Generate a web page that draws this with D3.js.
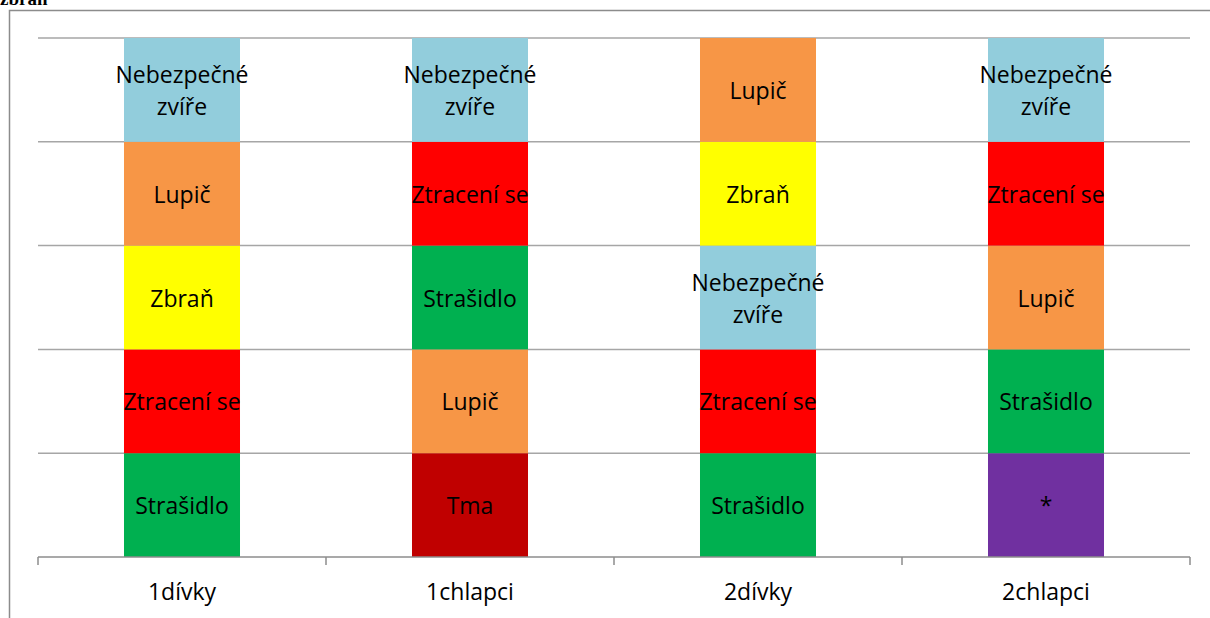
<!DOCTYPE html>
<html>
<head>
<meta charset="utf-8">
<script src="https://cdn.jsdelivr.net/npm/d3@7"></script>
<style>
  body { margin: 0; background: #fff; }
  text { font-family: "Open Sans", "Noto Sans", sans-serif; }
</style>
</head>
<body>
<div id="chart"></div>
<script>
const width = 1210;
const height = 618;

// groups on the x axis
const categories = ['1dívky', '1chlapci', '2dívky', '2chlapci'];
// stacked levels, bottom to top (each segment is one unit high)
const level1 = ['Strašidlo', 'Tma', 'Strašidlo', '*'];
const level2 = ['Ztracení se', 'Lupič', 'Ztracení se', 'Strašidlo'];
const level3 = ['Zbraň', 'Strašidlo', 'Nebezpečné zvíře', 'Lupič'];
const level4 = ['Lupič', 'Ztracení se', 'Zbraň', 'Ztracení se'];
const level5 = ['Nebezpečné zvíře', 'Nebezpečné zvíře', 'Lupič', 'Nebezpečné zvíře'];
const levels = [level1, level2, level3, level4, level5];
const yTicks = [0, 1, 2, 3, 4, 5];

const labelNames = ['Nebezpečné zvíře', 'Lupič', 'Zbraň', 'Ztracení se', 'Strašidlo', 'Tma', '*'];
const labelColors = ['#92CDDC', '#F79646', '#FFFF00', '#FF0000', '#00B050', '#C00000', '#7030A0'];

const color = d3.scaleOrdinal().domain(labelNames).range(labelColors);

const svg = d3.select('#chart').append('svg')
    .attr('width', width)
    .attr('height', height);

// chart frame (runs off the right/bottom edge)
svg.append('rect')
    .attr('x', 9.5).attr('y', 10.5)
    .attr('width', 1240).attr('height', 640)
    .attr('fill', 'none')
    .attr('stroke', '#8c8c8c')
    .attr('stroke-width', 1.5);

// title, clipped by the top edge as in the original
svg.append('text')
    .attr('x', 0).attr('y', 5)
    .style('font-family', '"Liberation Serif", serif')
    .style('font-weight', 'bold')
    .style('font-size', '19px')
    .text('zbraň');

const x = d3.scaleBand().domain(categories).range([38, 1190]).paddingInner(0.5972).paddingOuter(0.2986);
const xAxisScale = d3.scalePoint().domain(d3.range(categories.length + 1)).range([38, 1190]);
const y = d3.scaleLinear().domain([0, 5]).range([557, 38]);

// gridlines
svg.append('g').selectAll('line')
    .data(yTicks.slice(1))
    .join('line')
    .attr('x1', 38).attr('x2', 1190)
    .attr('y1', d => y(d)).attr('y2', d => y(d))
    .attr('stroke', '#a6a6a6')
    .attr('stroke-width', 1.5);

const segments = [];
levels.forEach((lvl, i) => {
    lvl.forEach((name, j) => segments.push({ cat: categories[j], name, y0: i, y1: i + 1 }));
});

const seg = svg.append('g').selectAll('g')
    .data(segments)
    .join('g');

seg.append('rect')
    .attr('x', d => x(d.cat))
    .attr('width', x.bandwidth())
    .attr('y', d => y(d.y1))
    .attr('height', d => y(d.y0) - y(d.y1))
    .attr('fill', d => color(d.name));

seg.each(function (d) {
    const words = d.name === 'Nebezpečné zvíře' ? ['Nebezpečné', 'zvíře'] : [d.name];
    const cx = x(d.cat) + x.bandwidth() / 2;
    const cy = (y(d.y0) + y(d.y1)) / 2;
    const lh = 32;
    const t = d3.select(this).append('text')
        .attr('text-anchor', 'middle')
        .style('font-size', '23px')
        .attr('fill', '#000');
    words.forEach((w, k) => {
        t.append('tspan')
            .attr('x', cx)
            .attr('y', cy + 9 + (k - (words.length - 1) / 2) * lh)
            .text(w);
    });
});

// x axis
svg.append('line')
    .attr('x1', 38).attr('x2', 1190)
    .attr('y1', 557).attr('y2', 557)
    .attr('stroke', '#8c8c8c').attr('stroke-width', 1.5);

svg.append('g').selectAll('line')
    .data(xAxisScale.domain())
    .join('line')
    .attr('x1', d => xAxisScale(d)).attr('x2', d => xAxisScale(d))
    .attr('y1', 557).attr('y2', 565)
    .attr('stroke', '#8c8c8c').attr('stroke-width', 1.5);

svg.append('g').selectAll('text')
    .data(categories)
    .join('text')
    .attr('x', d => x(d) + x.bandwidth() / 2)
    .attr('y', 600)
    .attr('text-anchor', 'middle')
    .style('font-size', '23px')
    .text(d => d);
</script>
</body>
</html>
